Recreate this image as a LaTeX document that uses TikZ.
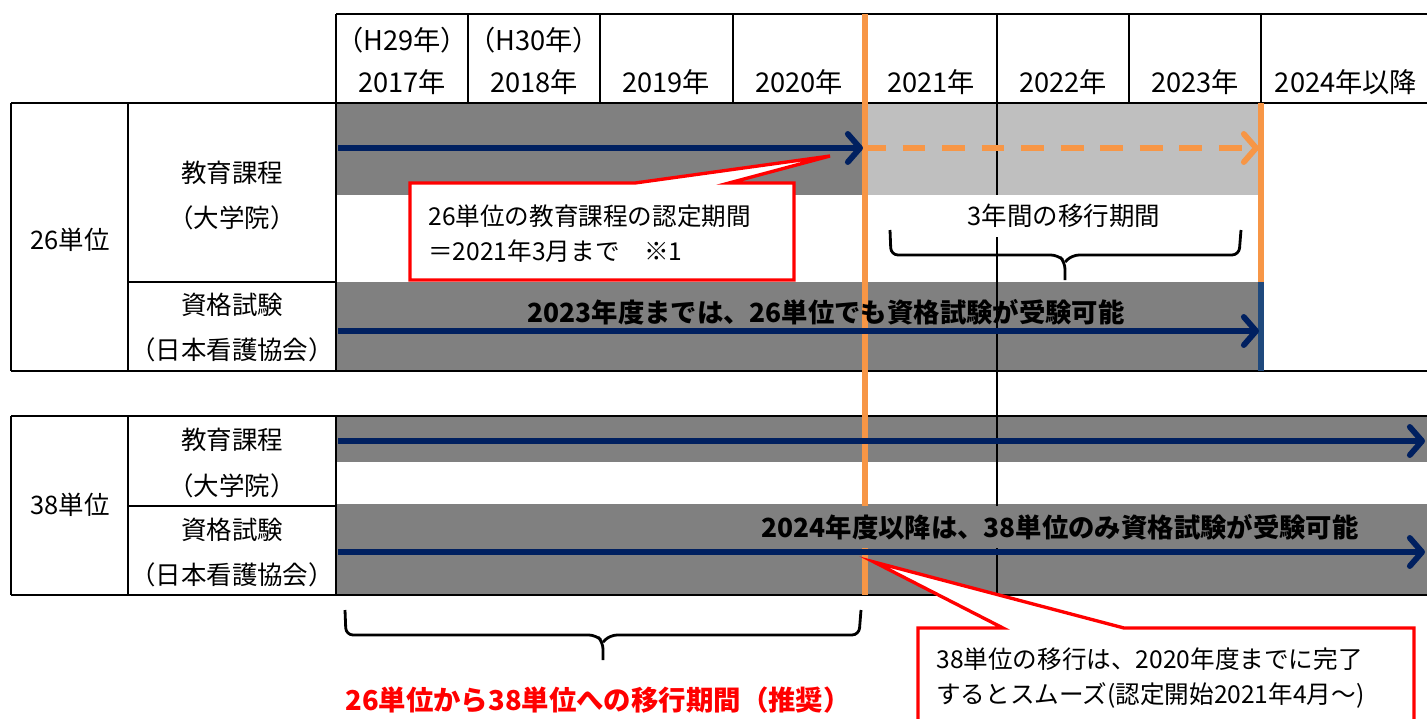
\documentclass[tikz,border=0pt]{standalone}
\usepackage{fontspec}
\setmainfont{Noto Sans CJK JP}
\usetikzlibrary{arrows.meta}
\definecolor{darkband}{RGB}{128,128,128}
\definecolor{lightband}{RGB}{191,191,191}
\definecolor{navyline}{RGB}{0,32,96}
\definecolor{orangeline}{RGB}{247,150,70}
\definecolor{blueline}{RGB}{31,73,125}
\definecolor{calloutred}{RGB}{255,0,0}

\begin{document}
\begin{tikzpicture}[x=0.02cm, y=-0.02cm,
    tableline/.style={line width=1.4pt},
    yearcell/.style={font=\fontsize{15.5pt}{17pt}\selectfont},
    rowtitle/.style={font=\fontsize{14.5pt}{16pt}\selectfont},
    bandnote/.style={font=\fontsize{15pt}{17pt}\selectfont\bfseries, inner sep=0pt},
    callouttext/.style={font=\fontsize{14pt}{20pt}\selectfont, align=left, anchor=west, inner sep=0pt},
    callout/.style={draw=calloutred, fill=white, line width=1.9pt, line join=miter},
    bandarrow/.style={navyline, line width=3.3pt, -{Straight Barb[length=7pt,width=16pt,round]}},
    bracepen/.style={line width=1.6pt, rounded corners=4pt}]
    \clip (0,0) rectangle (1427,718);

    % Bänder
    \fill[darkband] (336,103) rectangle (865,195);
    \fill[lightband] (865,103) rectangle (1261,195);
    \fill[darkband] (336,282) rectangle (1261,371);
    \fill[darkband] (336,416) rectangle (1427,462);
    \fill[darkband] (336,504) rectangle (1427,595);

    % Kopfzeile
    \draw[tableline] (336,14) -- (1427,14);
    \foreach \x in {336,468,600,733,1129,1261}
        \draw[tableline] (\x,14) -- (\x,103);
    \foreach \x/\yr [count=\i] in {402/2017,534/2018,666/2019,799/2020,931/2021,1063/2022,1195/2023}
        \node[yearcell] (yr\i) at (\x,82) {\yr 年};
    \node[yearcell] (yr8) at (1346,82) {2024年以降};
    \node[yearcell] (era1) at (402,40) {（H29年）};
    \node[yearcell] (era2) at (534,40) {（H30年）};

    % Tabelle 26
    \draw[tableline] (11,103) -- (1427,103);
    \draw[tableline] (11,371) -- (1427,371);
    \foreach \x in {11,128,336}
        \draw[tableline] (\x,103) -- (\x,371);
    \draw[tableline] (128,282) -- (336,282);

    % Tabelle 38
    \draw[tableline] (11,416) -- (1427,416);
    \draw[tableline] (11,595) -- (1427,595);
    \foreach \x in {11,128,336}
        \draw[tableline] (\x,416) -- (\x,595);
    \draw[tableline] (128,506) -- (336,506);

    % senkrechte Linien
    \draw[tableline] (997,14) -- (997,595);
    \draw[orangeline, line width=3pt] (865,14) -- (865,595);
    \draw[orangeline, line width=3pt] (1261,103) -- (1261,282);
    \draw[blueline, line width=3pt] (1261,282) -- (1261,371);

    % Texte mit Hintergrund
    \node[rowtitle, fill=white, minimum height=0.84cm, inner xsep=2pt] (span3) at (1064,216) {3年間の移行期間};
    \node[bandnote, fill=darkband, minimum height=0.84cm] (note38) at (1060,527) {2024年度以降は、38単位のみ資格試験が受験可能};

    % Pfeile
    \coordinate (c26s) at (338,148);
    \coordinate (c26e) at (863,148);
    \coordinate (c26d) at (1259,148);
    \coordinate (e26s) at (338,331);
    \coordinate (e26e) at (1259,331);
    \coordinate (c38s) at (338,441);
    \coordinate (c38e) at (1425,441);
    \coordinate (e38s) at (338,552);
    \coordinate (e38e) at (1425,552);
    \draw[bandarrow] (c26s) -- (c26e);
    \draw[bandarrow, orangeline, dash pattern=on 13pt off 9.5pt] (c26e) -- (c26d);
    \draw[bandarrow] (e26s) -- (e26e);
    \draw[bandarrow] (c38s) -- (c38e);
    \draw[bandarrow] (e38s) -- (e38e);

    \node[bandnote] (note26) at (826,312) {2023年度までは、26単位でも資格試験が受験可能};

    % Zeilenbeschriftungen
    \node[rowtitle] (u26) at (70,240) {26単位};
    \node[rowtitle] (u38) at (70,505) {38単位};
    \node[rowtitle] (cur26) at (232,173) {教育課程};
    \node[rowtitle] (grad26) at (232,218) {（大学院）};
    \node[rowtitle] (exam26) at (232,305) {資格試験};
    \node[rowtitle] (jna26) at (232,350) {（日本看護協会）};
    \node[rowtitle] (cur38) at (232,440) {教育課程};
    \node[rowtitle] (grad38) at (232,486) {（大学院）};
    \node[rowtitle] (exam38) at (232,530) {資格試験};
    \node[rowtitle] (jna38) at (232,575) {（日本看護協会）};

    % Klammern
    \draw[bracepen] (890,230) -- (891,255) -- (1058,255) -- (1065,262) -- (1065,280);
    \draw[bracepen] (1065,262) -- (1072,255) -- (1239,255) -- (1241,230);
    \draw[bracepen] (345,610) -- (346,635) -- (596,635) -- (603,642) -- (603,660);
    \draw[bracepen] (603,642) -- (610,635) -- (859,635) -- (861,610);
    \node[font=\fontsize{15.6pt}{17pt}\selectfont\bfseries, text=calloutred] (trans) at (598,700) {26単位から38単位への移行期間（推奨）};

    % Sprechblasen
    \draw[callout] (410,183) -- (635,183) -- (830,156) -- (729,183) -- (794,183) -- (794,280) -- (410,280) -- cycle;
    \node[callouttext] (cert) at (428,234) {26単位の教育課程の認定期間\\＝2021年3月まで　※1};
    \draw[callout] (918,628) -- (1003,628) -- (874,562) -- (1124,628) -- (1414,628) -- (1414,730) -- (918,730) -- cycle;
    \node[callouttext] (smooth) at (936,678) {38単位の移行は、2020年度までに完了\\するとスムーズ(認定開始2021年4月～)};
\end{tikzpicture}
\end{document}
